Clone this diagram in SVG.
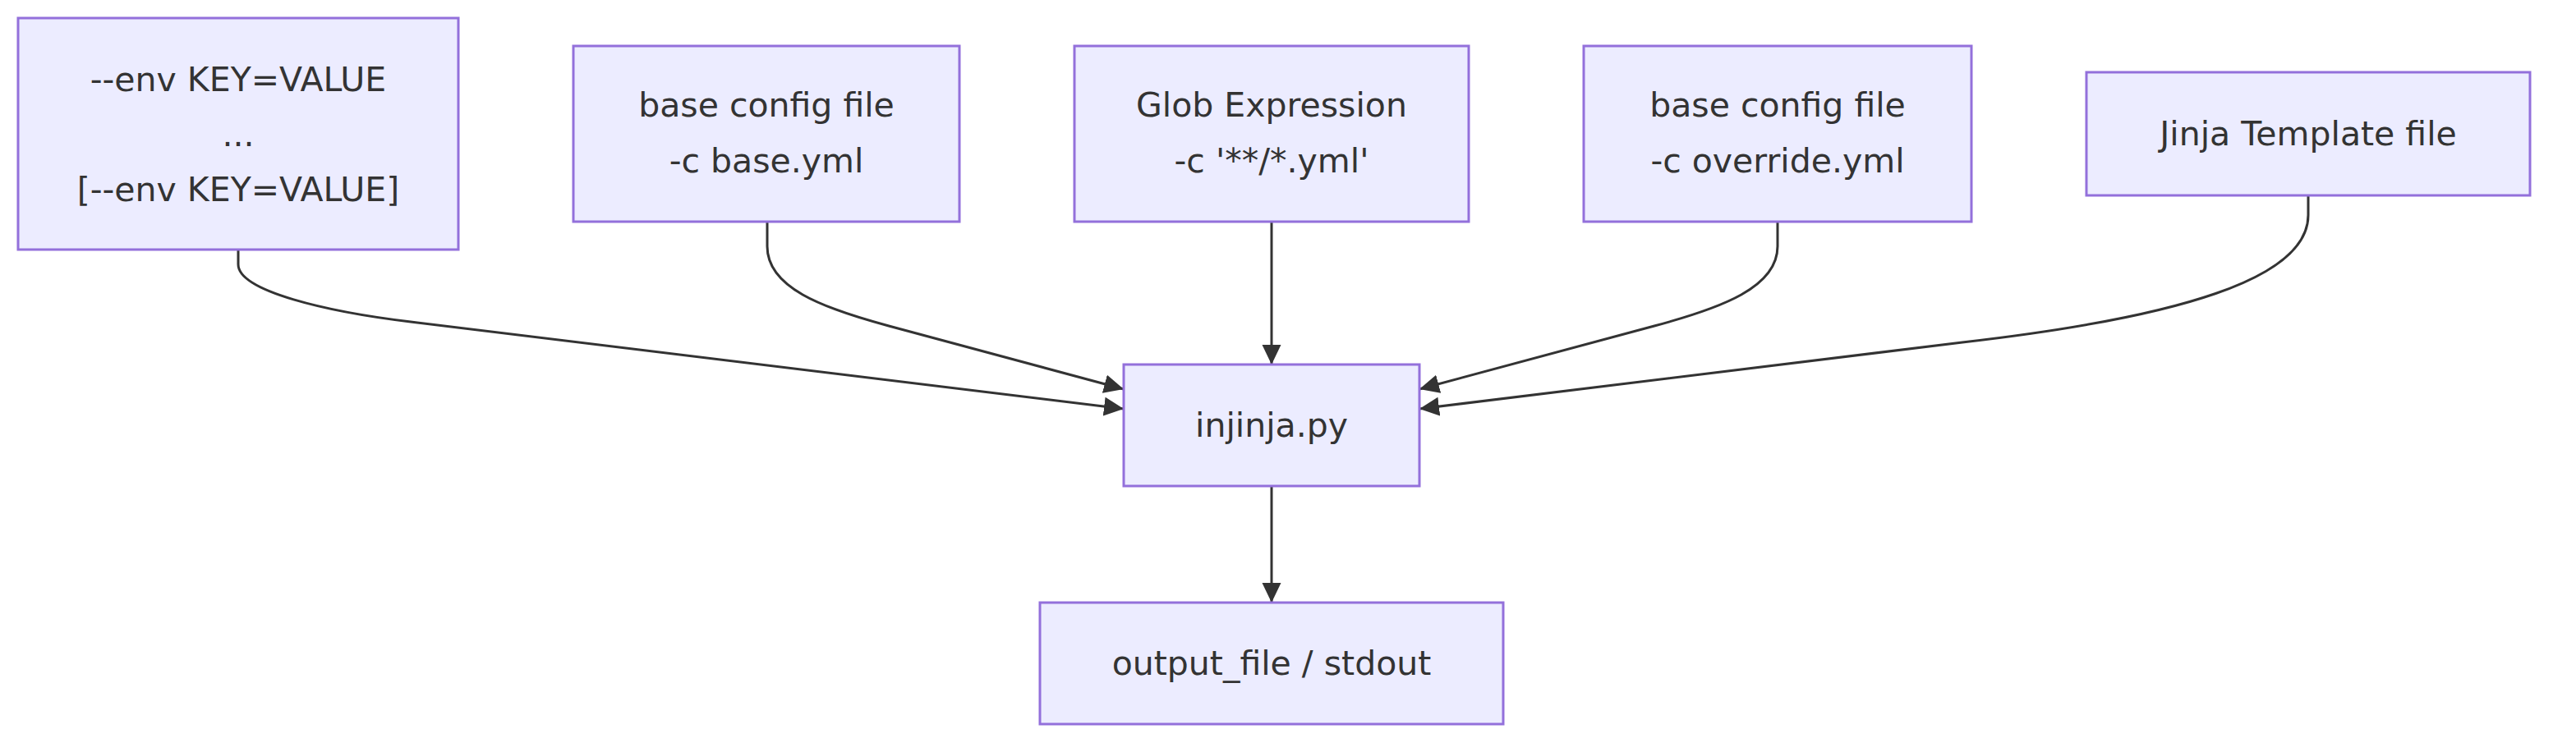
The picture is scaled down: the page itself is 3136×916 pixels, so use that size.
<svg xmlns="http://www.w3.org/2000/svg" width="3136" height="916" viewBox="0 0 3136 916">
<style>
.node rect{fill:#ECECFF;stroke:#9370DB;stroke-width:3}
.node text{font-family:"DejaVu Sans",sans-serif;font-size:41px;fill:#333;text-anchor:middle}
.edges path{fill:none;stroke:#333;stroke-width:3}
</style>
<defs>
<marker id="arrow" markerUnits="userSpaceOnUse" markerWidth="26" markerHeight="24" refX="24" refY="11.5" orient="auto">
<path d="M0,0 L24,11.5 L0,23 z" fill="#333"/>
</marker>
</defs>
<rect width="3136" height="916" fill="#fff"/>
<g class="edges">
<path d="M290,304 L290,322 C290,355 400,380 500,392 L1368,498" marker-end="url(#arrow)"/>
<path d="M934,270 L934,300 C934,350 1000,375 1082,397 L1368,474" marker-end="url(#arrow)"/>
<path d="M1548,270 L1548,444" marker-end="url(#arrow)"/>
<path d="M2164,270 L2164,300 C2164,350 2096,375 2014,397 L1728,474" marker-end="url(#arrow)"/>
<path d="M2810,238 L2810,262 C2810,340 2650,387 2389,417 L1728,498" marker-end="url(#arrow)"/>
<path d="M1548,592 L1548,734" marker-end="url(#arrow)"/>
</g>
<g id="env" class="node">
<rect x="22" y="22" width="536" height="282"/>
<text x="290" y="111">--env KEY=VALUE</text>
<text x="290" y="178">...</text>
<text x="290" y="245">[--env KEY=VALUE]</text>
</g>
<g id="base" class="node">
<rect x="698" y="56" width="470" height="214"/>
<text x="933" y="142">base config file</text>
<text x="933" y="210">-c base.yml</text>
</g>
<g id="glob" class="node">
<rect x="1308" y="56" width="480" height="214"/>
<text x="1548" y="142">Glob Expression</text>
<text x="1548" y="210">-c '**/*.yml'</text>
</g>
<g id="override" class="node">
<rect x="1928" y="56" width="472" height="214"/>
<text x="2164" y="142">base config file</text>
<text x="2164" y="210">-c override.yml</text>
</g>
<g id="template" class="node">
<rect x="2540" y="88" width="540" height="150"/>
<text x="2810" y="177">Jinja Template file</text>
</g>
<g id="injinja" class="node">
<rect x="1368" y="444" width="360" height="148"/>
<text x="1548" y="532">injinja.py</text>
</g>
<g id="output" class="node">
<rect x="1266" y="734" width="564" height="148"/>
<text x="1548" y="822">output_file / stdout</text>
</g>
</svg>
